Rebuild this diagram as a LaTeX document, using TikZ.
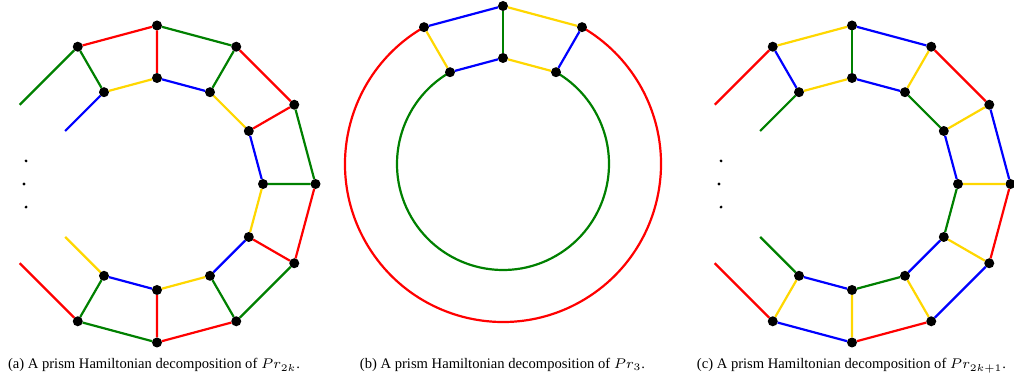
\documentclass[tikz,border=0pt]{standalone}
\usepackage{fontspec}
\setmainfont{Liberation Serif}
\usetikzlibrary{backgrounds}
\definecolor{hamred}{HTML}{FF0000}
\definecolor{hamgreen}{HTML}{008000}
\definecolor{hamblue}{HTML}{0000FF}
\definecolor{hamyellow}{HTML}{FFD700}

\begin{document}
\begin{tikzpicture}[x=0.5pt, y=0.5pt,
  vertex/.style={circle, fill=black, minimum size=5pt, inner sep=0pt, outer sep=0pt},
  line/.style={-, line width=1.1pt},
  rline/.style={line, draw=hamred},
  gline/.style={line, draw=hamgreen},
  bline/.style={line, draw=hamblue},
  yline/.style={line, draw=hamyellow},
  gap/.style={fill=black},
  caption/.style={anchor=base, font=\fontsize{7.3}{8.5}\selectfont, inner sep=0pt}
]
  \useasboundingbox (0,0) rectangle (1014,378);

  % (a) Pr_{2k}
  \begin{scope}[shift={(157,194)}]
    \coordinate (ao0) at (150:158.5);  \coordinate (ai0) at (150:106);
    \node[vertex] (ao1) at (120:158.5) {};  \node[vertex] (ai1) at (120:106) {};
    \node[vertex] (ao2) at (90:158.5) {};   \node[vertex] (ai2) at (90:106) {};
    \node[vertex] (ao3) at (60:158.5) {};   \node[vertex] (ai3) at (60:106) {};
    \node[vertex] (ao4) at (30:158.5) {};   \node[vertex] (ai4) at (30:106) {};
    \node[vertex] (ao5) at (0:158.5) {};    \node[vertex] (ai5) at (0:106) {};
    \node[vertex] (ao6) at (-30:158.5) {};  \node[vertex] (ai6) at (-30:106) {};
    \node[vertex] (ao7) at (-60:158.5) {};  \node[vertex] (ai7) at (-60:106) {};
    \node[vertex] (ao8) at (-90:158.5) {};  \node[vertex] (ai8) at (-90:106) {};
    \node[vertex] (ao9) at (-120:158.5) {}; \node[vertex] (ai9) at (-120:106) {};
    \coordinate (ao10) at (-150:158.5); \coordinate (ai10) at (-150:106);
    \fill[gap] (170:133) circle (1.6) (180:133) circle (1.6) (190:133) circle (1.6);
  \end{scope}
  % outer cycle
  \draw[gline] (ao0) -- (ao1) (ao2) -- (ao3) (ao4) -- (ao5) (ao6) -- (ao7) (ao8) -- (ao9);
  \draw[rline] (ao1) -- (ao2) (ao3) -- (ao4) (ao5) -- (ao6) (ao7) -- (ao8) (ao9) -- (ao10);
  % inner cycle
  \draw[bline] (ai0) -- (ai1) (ai2) -- (ai3) (ai4) -- (ai5) (ai6) -- (ai7) (ai8) -- (ai9);
  \draw[yline] (ai1) -- (ai2) (ai3) -- (ai4) (ai5) -- (ai6) (ai7) -- (ai8) (ai9) -- (ai10);
  % spokes
  \draw[gline] (ao1) -- (ai1) (ao3) -- (ai3) (ao5) -- (ai5) (ao7) -- (ai7) (ao9) -- (ai9);
  \draw[rline] (ao2) -- (ai2) (ao4) -- (ai4) (ao6) -- (ai6) (ao8) -- (ai8);
  \node[caption] (capa) at (154,9) {(a) A prism Hamiltonian decomposition of $Pr_{2k}$.};

  % (b) Pr_3
  \begin{scope}[shift={(503,214)}]
    \node[vertex] (bo1) at (120:158) {}; \node[vertex] (bi1) at (120:106) {};
    \node[vertex] (bo2) at (90:158) {};  \node[vertex] (bi2) at (90:106) {};
    \node[vertex] (bo3) at (60:158) {};  \node[vertex] (bi3) at (60:106) {};
  \end{scope}
  \begin{scope}[on background layer]
    \draw[rline] (bo1.center) arc[start angle=120, end angle=420, radius=158];
    \draw[gline] (bi1.center) arc[start angle=120, end angle=420, radius=106];
  \end{scope}
  \draw[bline] (bo1) -- (bo2) (bi1) -- (bi2) (bo3) -- (bi3);
  \draw[yline] (bo2) -- (bo3) (bi2) -- (bi3) (bo1) -- (bi1);
  \draw[gline] (bo2) -- (bi2);
  \node[caption] (capb) at (502.5,9) {(b) A prism Hamiltonian decomposition of $Pr_{3}$.};

  % (c) Pr_{2k+1}
  \begin{scope}[shift={(852,194)}]
    \coordinate (co0) at (150:158.5);  \coordinate (ci0) at (150:106);
    \node[vertex] (co1) at (120:158.5) {};  \node[vertex] (ci1) at (120:106) {};
    \node[vertex] (co2) at (90:158.5) {};   \node[vertex] (ci2) at (90:106) {};
    \node[vertex] (co3) at (60:158.5) {};   \node[vertex] (ci3) at (60:106) {};
    \node[vertex] (co4) at (30:158.5) {};   \node[vertex] (ci4) at (30:106) {};
    \node[vertex] (co5) at (0:158.5) {};    \node[vertex] (ci5) at (0:106) {};
    \node[vertex] (co6) at (-30:158.5) {};  \node[vertex] (ci6) at (-30:106) {};
    \node[vertex] (co7) at (-60:158.5) {};  \node[vertex] (ci7) at (-60:106) {};
    \node[vertex] (co8) at (-90:158.5) {};  \node[vertex] (ci8) at (-90:106) {};
    \node[vertex] (co9) at (-120:158.5) {}; \node[vertex] (ci9) at (-120:106) {};
    \coordinate (co10) at (-150:158.5); \coordinate (ci10) at (-150:106);
    \fill[gap] (170:133) circle (1.6) (180:133) circle (1.6) (190:133) circle (1.6);
  \end{scope}
  % outer cycle
  \draw[rline] (co0) -- (co1) (co3) -- (co4) (co5) -- (co6) (co7) -- (co8) (co9) -- (co10);
  \draw[yline] (co1) -- (co2);
  \draw[bline] (co2) -- (co3) (co4) -- (co5) (co6) -- (co7) (co8) -- (co9);
  % inner cycle
  \draw[gline] (ci0) -- (ci1) (ci3) -- (ci4) (ci5) -- (ci6) (ci7) -- (ci8) (ci9) -- (ci10);
  \draw[yline] (ci1) -- (ci2);
  \draw[bline] (ci2) -- (ci3) (ci4) -- (ci5) (ci6) -- (ci7) (ci8) -- (ci9);
  % spokes
  \draw[bline] (co1) -- (ci1);
  \draw[gline] (co2) -- (ci2);
  \draw[yline] (co3) -- (ci3) (co4) -- (ci4) (co5) -- (ci5) (co6) -- (ci6)
               (co7) -- (ci7) (co8) -- (ci8) (co9) -- (ci9);
  \node[caption] (capc) at (851.5,9) {(c) A prism Hamiltonian decomposition of $Pr_{2k+1}$.};

\end{tikzpicture}
\end{document}
